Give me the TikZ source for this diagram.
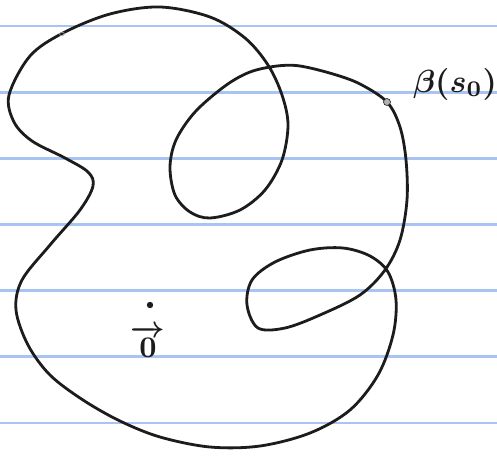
\documentclass[tikz,border=0pt]{standalone}
\usepackage{amsmath}
\tikzset{
  ruled/.style={draw=rulecol, line width=2.2pt},
  curve/.style={draw=inkcol, line width=2.8pt, line join=round},
  handtext/.style={inkcol, inner sep=0pt, font=\boldmath}
}
\definecolor{rulecol}{HTML}{A9C4F2}
\definecolor{inkcol}{HTML}{1C1C1C}
\begin{document}
\begin{tikzpicture}[x=1pt,y=-1pt]
\fill[white] (0,0) rectangle (497,455);
\useasboundingbox (0,0) rectangle (497,455);
\foreach \yy in {26,92.5,158.5,224.5,290.5,356.5,423} {
  \draw[ruled] (0,\yy) -- (497,\yy);
}
\draw[curve] plot[smooth cycle, tension=0.55] coordinates {
(387,102) (360,84) (333,74) (300,66) (277,66) (250,72) (225,86) (195,112)
(176,140) (170,167) (175,195) (190,212) (210,218) (240,210) (265,190)
(282,160) (288,125) (282,95) (268,65) (245,38) (210,17) (160,7) (110,14)
(63,33) (30,56) (9,95) (14,122) (32,141) (65,158) (88,172) (93,186)
(80,210) (50,245) (22,280) (16,310) (28,345) (50,375) (83,400) (120,421)
(160,437) (210,447) (260,446) (310,433) (350,410) (378,375) (393,335)
(396,300) (388,272) (370,256) (343,248) (310,250) (275,262) (252,280)
(247,305) (258,328) (285,328) (320,315) (360,295) (385,270) (400,240)
(407,200) (406,160) (400,127)};
\fill[gray!60, draw=inkcol, line width=0.6pt] (387,102) circle (3.5);
\draw[gray!70, line width=0.6pt] (62,34) ellipse (2.5 and 1.8);
\fill[inkcol] (150,305) circle (3.2);
\node[handtext, anchor=base, scale=3] (zero) at (148,357) {$\overrightarrow{\,0\,}$};
\node[handtext, anchor=base, scale=3.2] (beta) at (455,92) {$\beta(s_0)$};
\end{tikzpicture}
\end{document}
